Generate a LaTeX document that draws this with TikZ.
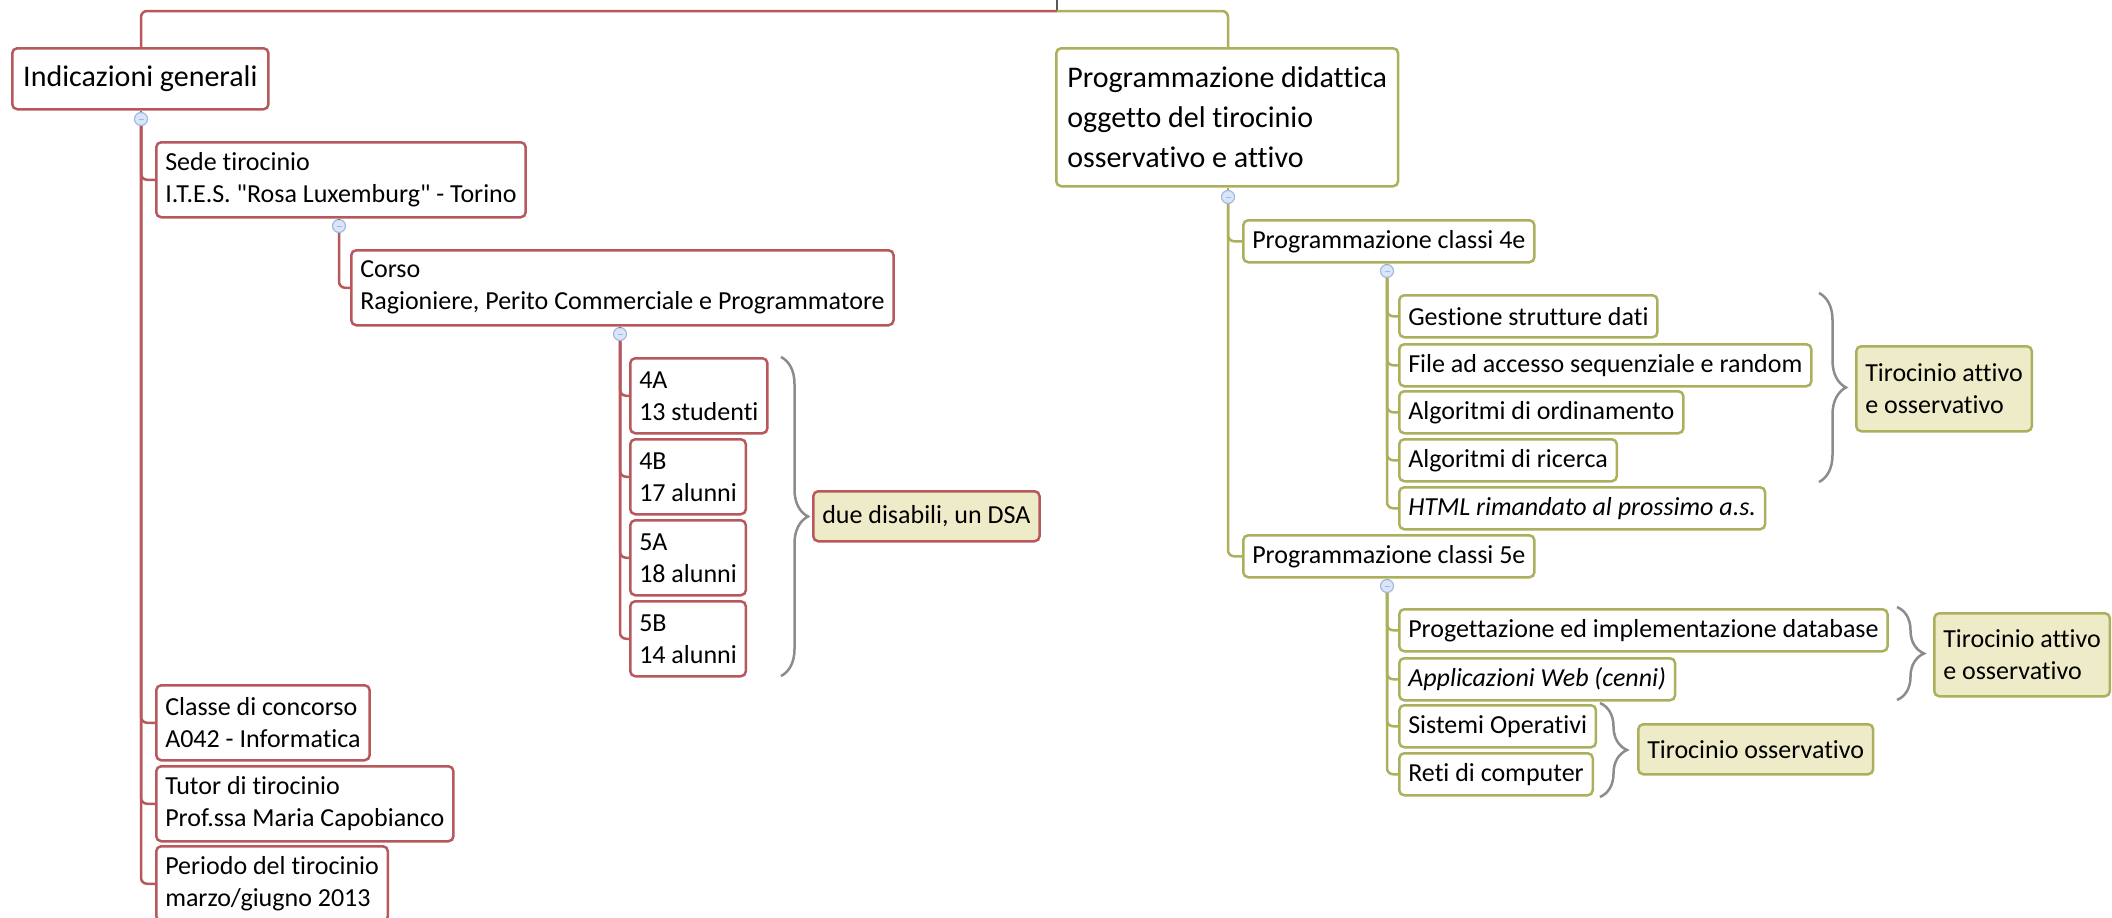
\documentclass[tikz,border=0pt]{standalone}
\usepackage{fontspec}
\setmainfont{Carlito}[Ligatures={TeXOff,NoCommon}]
\usetikzlibrary{positioning,decorations.pathreplacing}
\definecolor{rosso}{RGB}{183,88,92}
\definecolor{oliva}{RGB}{172,176,92}
\definecolor{giallino}{RGB}{238,236,200}
\definecolor{bottone}{RGB}{218,230,248}
\definecolor{bordobott}{RGB}{160,185,225}
\tikzset{
  voce/.style={draw, line width=2.5pt, rounded corners=5pt, fill=white, align=left,
    anchor=north west, inner xsep=9pt, inner ysep=0pt, font=\fontsize{26}{32}\selectfont},
  uno/.style={voce, minimum height=42pt},
  duo/.style={voce, minimum height=75pt},
  titolo/.style={voce, font=\fontsize{30}{40}\selectfont, inner xsep=11pt},
  nota/.style={voce, fill=giallino, minimum height=50pt},
  bott/.style={circle, draw=bordobott, fill=bottone, line width=1.2pt, minimum size=13pt, inner sep=0pt,
    path picture={\draw[bordobott, line width=1pt]
      ([xshift=-2.5pt]path picture bounding box.center) -- ([xshift=2.5pt]path picture bounding box.center);}},
  ramo/.style={line width=2.5pt, rounded corners=6pt},
  graffa/.style={draw=gray!90, line width=2.5pt, decorate, decoration={brace, amplitude=27pt}},
}
\begin{document}
\begin{tikzpicture}[x=1pt, y=-1pt]
  \useasboundingbox (0,0) rectangle (2112,918);
  \coordinate (root) at (1057,0);
  \coordinate (rootj) at (1057,11);

  \node[titolo, draw=rosso, minimum height=61pt] (indic) at (11,47) {Indicazioni generali};
  \node[bott] (kI) at (141,119) {};
  \node[duo, draw=rosso] (sede) at (155,141) {Sede tirocinio\\I.T.E.S. "Rosa Luxemburg" - Torino};
  \node[bott] (kS) at (339,226) {};
  \node[duo, draw=rosso] (corso) at (350,249) {Corso\\Ragioniere, Perito Commerciale e Programmatore};
  \node[bott] (kC) at (620,334) {};
  \node[duo, draw=rosso] (c4a) at (629,357) {4A\\13 studenti};
  \node[duo, draw=rosso] (c4b) at (629,438) {4B\\17 alunni};
  \node[duo, draw=rosso] (c5a) at (629,519) {5A\\18 alunni};
  \node[duo, draw=rosso] (c5b) at (629,600) {5B\\14 alunni};
  \node[nota, draw=rosso] (dsa) at (812,490) {due disabili, un DSA};
  \node[duo, draw=rosso] (classe) at (155,684) {Classe di concorso\\A042 - Informatica};
  \node[duo, draw=rosso] (tutor) at (155,765) {Tutor di tirocinio\\Prof.ssa Maria Capobianco};
  \node[duo, draw=rosso] (periodo) at (155,845) {Periodo del tirocinio\\marzo/giugno 2013};

  \node[titolo, draw=oliva, minimum height=138pt] (prog) at (1055,47)
    {Programmazione didattica\\oggetto del tirocinio\\osservativo e attivo};
  \node[bott] (kP) at (1228,197) {};
  \node[uno, draw=oliva] (cl4) at (1242,219) {Programmazione classi 4e};
  \node[bott] (k4) at (1387,271) {};
  \node[uno, draw=oliva] (gest) at (1398,294) {Gestione strutture dati};
  \node[uno, draw=oliva] (file) at (1398,343) {File ad accesso sequenziale e random};
  \node[uno, draw=oliva] (ordin) at (1398,390) {Algoritmi di ordinamento};
  \node[uno, draw=oliva] (ricer) at (1398,438) {Algoritmi di ricerca};
  \node[uno, draw=oliva] (html) at (1398,486) {\textit{HTML rimandato al prossimo a.s.}};
  \node[nota, draw=oliva, minimum height=85pt] (tir1) at (1855,345) {Tirocinio attivo\\e osservativo};
  \node[uno, draw=oliva] (cl5) at (1242,534) {Programmazione classi 5e};
  \node[bott] (k5) at (1387,586) {};
  \node[uno, draw=oliva] (progdb) at (1398,608) {Progettazione ed implementazione database};
  \node[uno, draw=oliva] (web) at (1398,657) {\textit{Applicazioni Web (cenni)}};
  \node[uno, draw=oliva] (so) at (1398,704) {Sistemi Operativi};
  \node[uno, draw=oliva] (reti) at (1398,752) {Reti di computer};
  \node[nota, draw=oliva, minimum height=83pt] (tir2) at (1933,612) {Tirocinio attivo\\e osservativo};
  \node[nota, draw=oliva] (oss) at (1637,723) {Tirocinio osservativo};

  \draw[line width=2pt, black!65] (root) -- (rootj);
  \draw[ramo, rosso] (rootj) -| (kI |- indic.north);
  \draw[ramo, rosso] (kI |- indic.south) -- (kI.north);
  \foreach \n in {sede,classe,tutor,periodo}
    \draw[ramo, rosso] (kI.south) |- (\n.west);
  \draw[ramo, rosso] (kS |- sede.south) -- (kS.north);
  \draw[ramo, rosso] (kS.south) |- (corso.west);
  \draw[ramo, rosso] (kC |- corso.south) -- (kC.north);
  \foreach \n in {c4a,c4b,c5a,c5b}
    \draw[ramo, rosso] (kC.south) |- (\n.west);

  \draw[ramo, oliva] (rootj) -| (kP |- prog.north);
  \draw[ramo, oliva] (kP |- prog.south) -- (kP.north);
  \foreach \n in {cl4,cl5}
    \draw[ramo, oliva] (kP.south) |- (\n.west);
  \draw[ramo, oliva] (k4 |- cl4.south) -- (k4.north);
  \foreach \n in {gest,file,ordin,ricer,html}
    \draw[ramo, oliva] (k4.south) |- (\n.west);
  \draw[ramo, oliva] (k5 |- cl5.south) -- (k5.north);
  \foreach \n in {progdb,web,so,reti}
    \draw[ramo, oliva] (k5.south) |- (\n.west);

  \draw[graffa] (781,357) -- (781,676);
  \draw[graffa] (1819,293) -- (1819,482);
  \draw[graffa] (1897,607) -- (1897,700);
  \draw[graffa] (1600,703) -- (1600,797);
\end{tikzpicture}
\end{document}
